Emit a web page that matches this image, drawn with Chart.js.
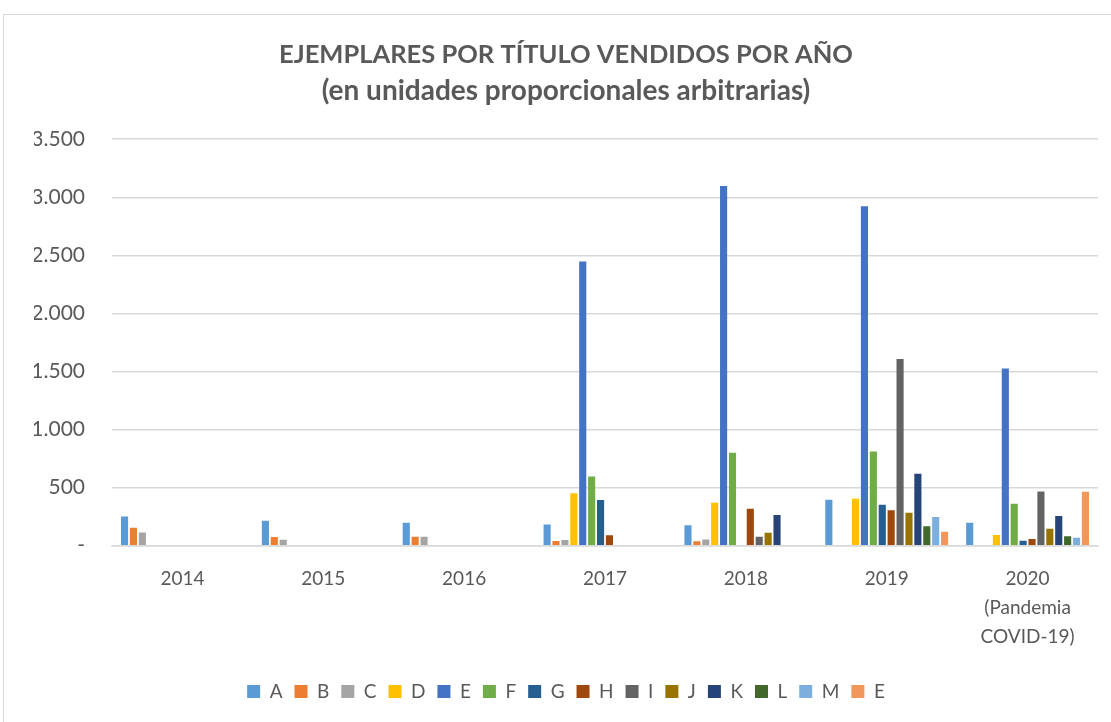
<!DOCTYPE html>
<html>
<head>
<meta charset="utf-8">
<script src="https://cdn.jsdelivr.net/npm/chart.js@4"></script>
<style>
  html, body { margin: 0; padding: 0; background: #fff; overflow: hidden; }
  #box {
    position: absolute; left: 3px; top: 14px; width: 1120px; height: 720px;
    border: 1px solid #d9d9d9; box-sizing: border-box;
  }
  #wrap { position: absolute; left: 0; top: 0; width: 1108px; height: 708px; }
</style>
</head>
<body>
<div id="box"><div id="wrap"><canvas id="chart"></canvas></div></div>
<script>
// Categories
const years = ['2014', '2015', '2016', '2017', '2018', ['2019'], ['2020', '(Pandemia', 'COVID-19)']];

// Series values
const serieA = [250, 214, 197, 182, 175, 396, 198];
const serieB = [154, 74, 77, 40, 37, null, null];
const serieC = [114, 51, 77, 49, 52, null, null];
const serieD = [null, null, null, 451, 370, 404, 92];
const serieE = [null, null, null, 2446, 3097, 2923, 1526];
const serieF = [null, null, null, 595, 800, 811, 361];
const serieG = [null, null, null, 393, 5, 353, 43];
const serieH = [null, null, null, 89, 318, 304, 57];
const serieI = [null, null, null, null, 77, 1607, 467];
const serieJ = [null, null, null, null, 112, 284, 146];
const serieK = [null, null, null, null, 264, 619, 255];
const serieL = [null, null, null, null, null, 166, 80];
const serieM = [null, null, null, null, null, 247, 69];
const serieE2 = [null, null, null, null, null, 120, 464];

const seriesNames = ['A', 'B', 'C', 'D', 'E', 'F', 'G', 'H', 'I', 'J', 'K', 'L', 'M', 'E'];
const seriesData = [serieA, serieB, serieC, serieD, serieE, serieF, serieG, serieH, serieI, serieJ, serieK, serieL, serieM, serieE2];
const seriesColors = ['#5B9BD5', '#ED7D31', '#A5A5A5', '#FFC000', '#4472C4', '#70AD47', '#255E91',
                      '#9E480E', '#636363', '#997300', '#264478', '#43682B', '#7CAFDD', '#F1975A'];

const yTicks = [0, 500, 1000, 1500, 2000, 2500, 3000, 3500];

const textColor = '#595959';
const fontFamily = "Lato, 'Open Sans', sans-serif";

function fmt(v) {
    if (v === 0) return '-';
    return v.toLocaleString('de-DE');
}

const ctx = document.getElementById('chart').getContext('2d');
new Chart(ctx, {
    type: 'bar',
    data: {
        labels: years,
        datasets: seriesNames.map((name, i) => ({
            label: name,
            data: seriesData[i],
            backgroundColor: seriesColors[i],
            borderWidth: 0
        }))
    },
    options: {
        responsive: true,
        maintainAspectRatio: false,
        animation: false,
        layout: { padding: { left: 30, right: 14, top: 24, bottom: 12 } },
        datasets: { bar: { categoryPercentage: 0.885, barPercentage: 0.8 } },
        plugins: {
            title: {
                display: true,
                text: 'EJEMPLARES POR TÍTULO VENDIDOS POR AÑO',
                color: textColor,
                font: { family: fontFamily, size: 25.5, weight: 'bold', lineHeight: 1.2 },
                padding: { top: 0, bottom: 5 }
            },
            subtitle: {
                display: true,
                text: '(en unidades proporcionales arbitrarias)',
                color: textColor,
                font: { family: fontFamily, size: 28, weight: 'bold', lineHeight: 1.2 },
                padding: { top: 0, bottom: 31 }
            },
            legend: {
                position: 'bottom',
                labels: {
                    color: textColor,
                    font: { family: fontFamily, size: 19 },
                    boxWidth: 13,
                    boxHeight: 13,
                    padding: 12
                }
            },
            tooltip: { enabled: false }
        },
        scales: {
            x: {
                grid: { display: false, drawTicks: false },
                border: { display: true, color: '#d9d9d9', width: 1.5 },
                ticks: {
                    color: textColor,
                    font: { family: fontFamily, size: 19, lineHeight: 1.55 },
                    padding: 18,
                    maxRotation: 0
                }
            },
            y: {
                min: 0,
                max: 3500,
                afterBuildTicks: (axis) => { axis.ticks = yTicks.map(v => ({ value: v })); },
                afterFit: (axis) => { axis.width = 78; },
                grid: { color: '#d9d9d9', lineWidth: 1.5, drawTicks: false },
                border: { display: false },
                ticks: {
                    color: textColor,
                    font: { family: fontFamily, size: 21 },
                    padding: 27,
                    callback: (v) => fmt(v)
                }
            }
        }
    }
});
</script>
</body>
</html>
